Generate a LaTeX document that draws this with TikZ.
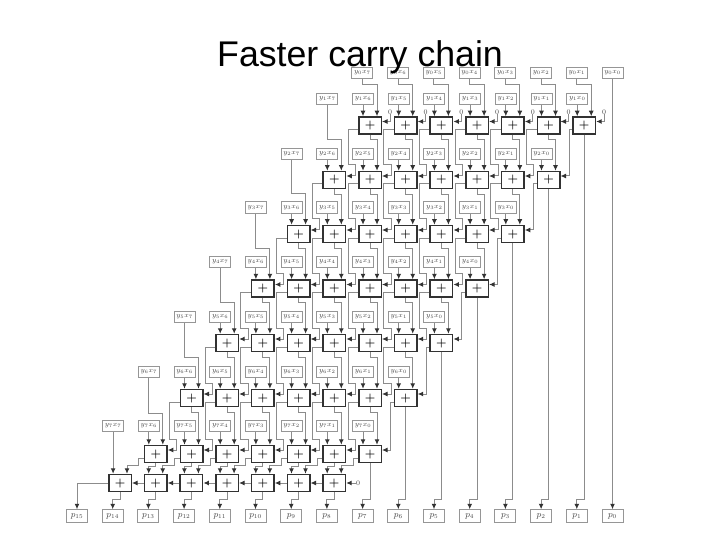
\documentclass[tikz,border=0pt]{standalone}
\usepackage{fontspec}
\setmainfont{Liberation Sans}
\usepackage{amsmath}
\usetikzlibrary{arrows.meta,calc}
\definecolor{wiregray}{RGB}{140,140,140}
\definecolor{boxgray}{RGB}{150,150,150}
\definecolor{addgray}{RGB}{50,50,50}
\definecolor{textgray}{RGB}{70,70,70}
\tikzset{
  adder/.style={draw=addgray, line width=1.5pt, fill=white, minimum width=22.5pt, minimum height=17pt, inner sep=0pt, font=\fontsize{12}{12}\selectfont\boldmath},
  term/.style={draw=boxgray, line width=1pt, minimum width=21pt, minimum height=11.5pt, inner sep=0pt, text=textgray, font=\fontsize{7.5}{7.5}\selectfont},
  prod/.style={term, minimum height=12.5pt, font=\fontsize{9}{9}\selectfont},
  zero/.style={inner sep=0pt, text=textgray, font=\fontsize{7.5}{7.5}\selectfont},
  wire/.style={draw=wiregray, line width=1pt},
  feed/.style={wire, -{Latex[length=5.5pt,width=5pt,addgray]}},
}
\begin{document}
\begin{tikzpicture}[x=1pt,y=-1pt]
\useasboundingbox (0,0) rectangle (720,540);

% adders, with their terms
\foreach \r/\yy/\ly in {1/125.5/99,2/180/154,3/234/207.5,4/288.5/262,5/343/317,6/398/372,7/454/426}{
  \foreach \k in {0,...,6}{
    \pgfmathsetmacro{\cx}{370+(\k-\r+1)*35.7}
    \pgfmathtruncatemacro{\j}{6-\k}
    \node[adder] (add\r-\k) at (\cx,\yy) {$+$};
    \node[term] (xy\r-\j) at (\cx-7,\ly) {$y_{\r}x_{\j}$};
  }
  \pgfmathsetmacro{\cx}{370-\r*35.7}
  \node[term] (xy\r-7) at (\cx-7,\ly) {$y_{\r}x_{7}$};
}
% last row
\foreach \k in {0,...,6}{
  \pgfmathsetmacro{\cx}{120+\k*35.7}
  \node[adder] (add8-\k) at (\cx,483) {$+$};
}
% top terms and products
\foreach \j in {0,...,7}{
  \pgfmathsetmacro{\cx}{612.5-\j*35.75}
  \node[term] (xy0-\j) at (\cx,73) {$y_{0}x_{\j}$};
}
\foreach \p in {0,...,15}{
  \pgfmathsetmacro{\cx}{612.5-\p*35.7}
  \node[prod] (p\p) at (\cx,516) {$p_{\p}$};
}

% top row feeds and the zeros
\foreach \k in {0,...,6}{
  \pgfmathtruncatemacro{\j}{7-\k}
  \draw[feed] (xy0-\j.south) -- ++(0,5.5) -| ([xshift=7pt]add1-\k.north);
  \node[zero] (zero\k) at ([xshift=20pt,yshift=13.5pt]add1-\k.center) {$0$};
  \draw[feed] (zero\k.south) |- ([yshift=4pt]add1-\k.east);
}
\draw[feed] (xy0-0.south) -- (p0.north);

% terms into adders
\foreach \r in {1,...,7}{
  \foreach \k in {0,...,6}{
    \pgfmathtruncatemacro{\j}{6-\k}
    \draw[feed] (xy\r-\j.south) -- (xy\r-\j.south |- add\r-\k.north);
  }
}
\foreach \r in {1,...,6}{
  \pgfmathtruncatemacro{\n}{\r+1}
  \draw[feed] (xy\r-7.south) |- ([xshift=7pt,yshift=31pt]add\n-0.north) -- ([xshift=7pt]add\n-0.north);
  % sums
  \foreach \k in {0,...,5}{
    \pgfmathtruncatemacro{\m}{\k+1}
    \draw[feed] (add\r-\k.south) -- ++(0,5) -| ([xshift=7pt]add\n-\m.north);
    \draw[feed] ([yshift=-4pt]add\r-\k.west) -- ++(-10,0) |- ([xshift=9pt,yshift=15pt]add\n-\k.east) -- ([xshift=9pt,yshift=4pt]add\n-\k.east) -- ([yshift=4pt]add\n-\k.east);
  }
  \draw[feed] ([yshift=-4pt]add\r-6.west) -| ([xshift=8.5pt,yshift=4pt]add\n-6.east) -- ([yshift=4pt]add\n-6.east);
}
% low products
\foreach \r in {1,...,7}{
  \draw[feed] (add\r-6.south) |- ([yshift=10pt]p\r.north) -- (p\r.north);
}

% into the last row
\draw[feed] (xy7-7.south) -- (xy7-7.south |- add8-0.north);
\foreach \k in {0,...,6}{
  \draw[feed] ([yshift=-4pt]add7-\k.west) -- ++(-5,0) |- ([xshift=7pt,yshift=8pt]add8-\k.north) -- ([xshift=7pt]add8-\k.north);
}
\foreach \k in {0,...,5}{
  \pgfmathtruncatemacro{\m}{\k+1}
  \draw[feed] (add7-\k.south) |- ([xshift=-7pt,yshift=7pt]add8-\m.north) -- ([xshift=-7pt]add8-\m.north);
}
% along the last row
\foreach \k in {1,...,6}{
  \pgfmathtruncatemacro{\m}{\k-1}
  \draw[feed] (add8-\k.west) -- (add8-\m.east);
}
\node[zero] (zero7) at (358,483) {$0$};
\draw[feed] (zero7.west) -- (add8-6.east);
\draw[feed] (add8-0.west) -| (p15.north);
\foreach \k in {0,...,6}{
  \pgfmathtruncatemacro{\p}{14-\k}
  \draw[feed] (add8-\k.south) |- ([yshift=10pt]p\p.north) -- (p\p.north);
}

\node[anchor=base west, inner sep=0pt, font=\fontsize{35.7}{40}\selectfont] (title) at (217,67) {Faster carry chain};
\end{tikzpicture}
\end{document}
